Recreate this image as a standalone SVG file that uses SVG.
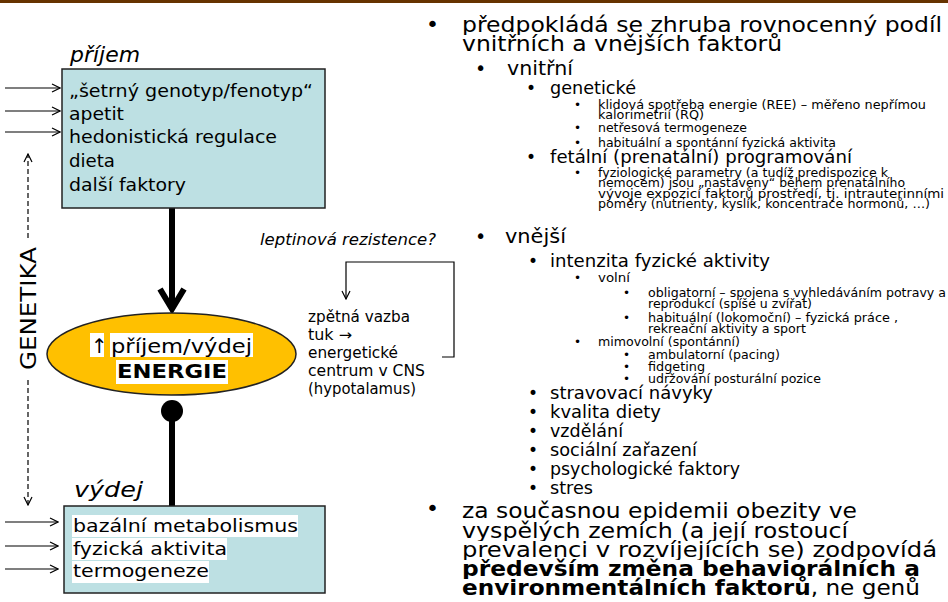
<svg xmlns="http://www.w3.org/2000/svg" width="948" height="602" viewBox="0 0 948 602">
<style>
text{font-family:"DejaVu Sans","Verdana",sans-serif;fill:#000}
.box{fill:#bde0e3;stroke:#222;stroke-width:1.5}
.bt{font-size:18px}
.it{font-style:italic}
.thin{stroke:#000;stroke-width:1.2;fill:none}
.dash{stroke:#000;stroke-width:1.2;fill:none;stroke-dasharray:5 3}
.thick{stroke:#000;stroke-width:6;fill:none}
.l0{font-size:22px}
.l1{font-size:19px}
.l2{font-size:17px}
.l3{font-size:12px}
.wb{fill:#fff}
</style>
<defs>
<marker id="ah" viewBox="0 0 10 10" refX="9" refY="5" markerWidth="10" markerHeight="10" markerUnits="userSpaceOnUse" orient="auto">
<path d="M1,1 L9,5 L1,9" fill="none" stroke="#000" stroke-width="1.2"/>
</marker>
</defs>
<rect x="0" y="0" width="948" height="3" fill="#663300"/>

<g id="connectors">
<line class="thin" x1="5" y1="88" x2="60" y2="88" marker-end="url(#ah)"/>
<line class="thin" x1="5" y1="111" x2="60" y2="111" marker-end="url(#ah)"/>
<line class="thin" x1="5" y1="132" x2="60" y2="132" marker-end="url(#ah)"/>
<line class="thin" x1="5" y1="522" x2="58" y2="522" marker-end="url(#ah)"/>
<line class="thin" x1="5" y1="546" x2="58" y2="546" marker-end="url(#ah)"/>
<line class="thin" x1="5" y1="569" x2="58" y2="569" marker-end="url(#ah)"/>
<line class="dash" x1="28" y1="238" x2="28" y2="154" marker-end="url(#ah)"/>
<line class="dash" x1="28" y1="380" x2="28" y2="505" marker-end="url(#ah)"/>
<line class="thick" x1="172" y1="208" x2="172" y2="310"/>
<path class="thick" d="M160,289 L172,309 L184,289" stroke-linejoin="miter"/>
<line class="thick" x1="172" y1="411" x2="172" y2="506"/>
<circle cx="172" cy="411" r="11" fill="#000"/>
<path class="thin" d="M442,357 L454,357 L454,262 L346,262 L346,299" marker-end="url(#ah)"/>
</g>

<g id="prijem">
<rect class="box" x="62" y="69" width="263" height="139"/>
<text class="it" x="70" y="62" font-size="22" textLength="70" lengthAdjust="spacingAndGlyphs">příjem</text>
<text class="bt" x="69" y="97" textLength="244" lengthAdjust="spacingAndGlyphs">„šetrný genotyp/fenotyp“</text>
<text class="bt" x="69" y="120" textLength="55" lengthAdjust="spacingAndGlyphs">apetit</text>
<text class="bt" x="69" y="143" textLength="208" lengthAdjust="spacingAndGlyphs">hedonistická regulace</text>
<text class="bt" x="69" y="167" textLength="46" lengthAdjust="spacingAndGlyphs">dieta</text>
<text class="bt" x="69" y="191" textLength="117" lengthAdjust="spacingAndGlyphs">další faktory</text>
</g>

<g id="genetika">
<text x="0" y="0" font-size="22" transform="translate(36,370) rotate(-90)" textLength="123" lengthAdjust="spacingAndGlyphs">GENETIKA</text>
</g>

<g id="energie">
<ellipse cx="171.5" cy="354" rx="124.5" ry="41" fill="#ffc000" stroke="#222" stroke-width="1.5"/>
<rect class="wb" x="90" y="333" width="14" height="24"/>
<rect class="wb" x="110" y="333" width="143" height="24"/>
<rect class="wb" x="116" y="360" width="112" height="24"/>
<text x="91" y="353" font-size="20">↑</text>
<text x="111" y="353" font-size="20" textLength="141" lengthAdjust="spacingAndGlyphs">příjem/výdej</text>
<text x="117" y="378" font-size="20" font-weight="bold" textLength="110" lengthAdjust="spacingAndGlyphs">ENERGIE</text>
</g>

<g id="vydej">
<rect class="box" x="64" y="506" width="261" height="87"/>
<text class="it" x="74" y="497" font-size="22" textLength="69" lengthAdjust="spacingAndGlyphs">výdej</text>
<rect class="wb" x="72" y="515" width="226" height="22"/>
<rect class="wb" x="72" y="538" width="155" height="22"/>
<rect class="wb" x="72" y="561" width="137" height="22"/>
<text class="bt" x="73" y="532" textLength="225" lengthAdjust="spacingAndGlyphs">bazální metabolismus</text>
<text class="bt" x="73" y="555" textLength="154" lengthAdjust="spacingAndGlyphs">fyzická aktivita</text>
<text class="bt" x="73" y="577" textLength="136" lengthAdjust="spacingAndGlyphs">termogeneze</text>
</g>

<g id="leptin">
<text class="it" x="260" y="245" font-size="16" textLength="176" lengthAdjust="spacingAndGlyphs">leptinová rezistence?</text>
</g>

<g id="zpetna-vazba" font-size="15">
<text x="308" y="322" font-size="15" textLength="102" lengthAdjust="spacingAndGlyphs">zpětná vazba</text>
<text x="308" y="340" font-size="15" textLength="44" lengthAdjust="spacingAndGlyphs">tuk →</text>
<text x="308" y="358" font-size="15" textLength="90" lengthAdjust="spacingAndGlyphs">energetické</text>
<text x="308" y="376" font-size="15" textLength="117" lengthAdjust="spacingAndGlyphs">centrum v CNS</text>
<text x="308" y="394" font-size="15" textLength="108" lengthAdjust="spacingAndGlyphs">(hypotalamus)</text>
</g>

<g id="faktory">
<text class="l0" x="426" y="32">•</text>
<text class="l0" x="462" y="32" textLength="480" lengthAdjust="spacingAndGlyphs">předpokládá se zhruba rovnocenný podíl</text>
<rect class="wb" x="460" y="35" width="330" height="21"/>
<text class="l0" x="462" y="51" textLength="320" lengthAdjust="spacingAndGlyphs">vnitřních a vnějších faktorů</text>

<text class="l1" x="475" y="75">•</text>
<text class="l1" x="507" y="75" textLength="66" lengthAdjust="spacingAndGlyphs">vnitřní</text>
<text class="l2" x="526" y="94">•</text>
<text class="l2" x="550" y="94" textLength="86" lengthAdjust="spacingAndGlyphs">genetické</text>
<text class="l3" x="574" y="109">•</text>
<text class="l3" x="598" y="109" textLength="328" lengthAdjust="spacingAndGlyphs">klidová spotřeba energie  (REE) – měřeno nepřímou</text>
<text class="l3" x="598" y="119" textLength="106" lengthAdjust="spacingAndGlyphs">kalorimetrií (RQ)</text>
<text class="l3" x="574" y="132">•</text>
<text class="l3" x="598" y="132" textLength="149" lengthAdjust="spacingAndGlyphs">netřesová termogeneze</text>
<text class="l3" x="574" y="147">•</text>
<text class="l3" x="598" y="147" textLength="238" lengthAdjust="spacingAndGlyphs">habituální a spontánní fyzická aktivita</text>
<text class="l2" x="526" y="163">•</text>
<text class="l2" x="550" y="163" textLength="302" lengthAdjust="spacingAndGlyphs">fetální (prenatální) programování</text>
<text class="l3" x="574" y="177">•</text>
<text class="l3" x="598" y="177" textLength="290" lengthAdjust="spacingAndGlyphs">fyziologické parametry (a tudíž predispozice k</text>
<text class="l3" x="598" y="187" textLength="307" lengthAdjust="spacingAndGlyphs">nemocem) jsou „nastaveny“ během prenatálního</text>
<text class="l3" x="598" y="198" textLength="346" lengthAdjust="spacingAndGlyphs">vývoje expozicí faktorů prostředí, tj. intrauterinními</text>
<text class="l3" x="598" y="208" textLength="332" lengthAdjust="spacingAndGlyphs">poměry (nutrienty, kyslík, koncentrace hormonů, …)</text>

<text class="l1" x="475" y="243">•</text>
<text class="l1" x="505" y="243" textLength="61" lengthAdjust="spacingAndGlyphs">vnější</text>
<text class="l2" x="528" y="267">•</text>
<text class="l2" x="550" y="267" textLength="220" lengthAdjust="spacingAndGlyphs">intenzita fyzické aktivity</text>
<text class="l3" x="574" y="282">•</text>
<text class="l3" x="598" y="282" textLength="32" lengthAdjust="spacingAndGlyphs">volní</text>
<text class="l3" x="623" y="297">•</text>
<text class="l3" x="648" y="297" textLength="298" lengthAdjust="spacingAndGlyphs">obligatorní – spojena s vyhledáváním potravy a</text>
<text class="l3" x="648" y="308" textLength="164" lengthAdjust="spacingAndGlyphs">reprodukcí (spíše u zvířat)</text>
<text class="l3" x="623" y="322">•</text>
<text class="l3" x="648" y="322" textLength="250" lengthAdjust="spacingAndGlyphs">habituální (lokomoční) – fyzická práce ,</text>
<text class="l3" x="648" y="333" textLength="158" lengthAdjust="spacingAndGlyphs">rekreační aktivity a sport</text>
<text class="l3" x="574" y="346">•</text>
<text class="l3" x="598" y="346" textLength="142" lengthAdjust="spacingAndGlyphs">mimovolní (spontánní)</text>
<text class="l3" x="623" y="359">•</text>
<text class="l3" x="648" y="359" textLength="132" lengthAdjust="spacingAndGlyphs">ambulatorní (pacing)</text>
<text class="l3" x="623" y="371">•</text>
<text class="l3" x="648" y="371" textLength="57" lengthAdjust="spacingAndGlyphs">fidgeting</text>
<text class="l3" x="623" y="383">•</text>
<text class="l3" x="648" y="383" textLength="173" lengthAdjust="spacingAndGlyphs">udržování posturální pozice</text>
<text class="l2" x="528" y="399">•</text>
<text class="l2" x="550" y="399" textLength="163" lengthAdjust="spacingAndGlyphs">stravovací návyky</text>
<text class="l2" x="528" y="418">•</text>
<text class="l2" x="550" y="418" textLength="111" lengthAdjust="spacingAndGlyphs">kvalita diety</text>
<text class="l2" x="528" y="437">•</text>
<text class="l2" x="550" y="437" textLength="73" lengthAdjust="spacingAndGlyphs">vzdělání</text>
<text class="l2" x="528" y="456">•</text>
<text class="l2" x="550" y="456" textLength="147" lengthAdjust="spacingAndGlyphs">sociální zařazení</text>
<text class="l2" x="528" y="475">•</text>
<text class="l2" x="550" y="475" textLength="190" lengthAdjust="spacingAndGlyphs">psychologické faktory</text>
<text class="l2" x="528" y="494">•</text>
<text class="l2" x="550" y="494" textLength="43" lengthAdjust="spacingAndGlyphs">stres</text>

<text class="l0" x="426" y="516">•</text>
<text class="l0" x="462" y="518" textLength="395" lengthAdjust="spacingAndGlyphs">za současnou epidemii obezity ve</text>
<rect class="wb" x="460" y="521" width="400" height="21"/>
<text class="l0" x="462" y="538" textLength="386" lengthAdjust="spacingAndGlyphs">vyspělých zemích (a její rostoucí</text>
<rect class="wb" x="460" y="541" width="480" height="20"/>
<text class="l0" x="462" y="557" textLength="475" lengthAdjust="spacingAndGlyphs">prevalenci v rozvíjejících se) zodpovídá</text>
<rect class="wb" x="460" y="560" width="480" height="20"/>
<text class="l0" x="462" y="576" font-weight="bold" textLength="458" lengthAdjust="spacingAndGlyphs">především změna behaviorálních a</text>
<rect class="wb" x="460" y="579" width="480" height="20"/>
<text class="l0" x="462" y="595" textLength="458" lengthAdjust="spacingAndGlyphs"><tspan font-weight="bold">environmentálních faktorů</tspan>, ne genů</text>
</g>
</svg>
